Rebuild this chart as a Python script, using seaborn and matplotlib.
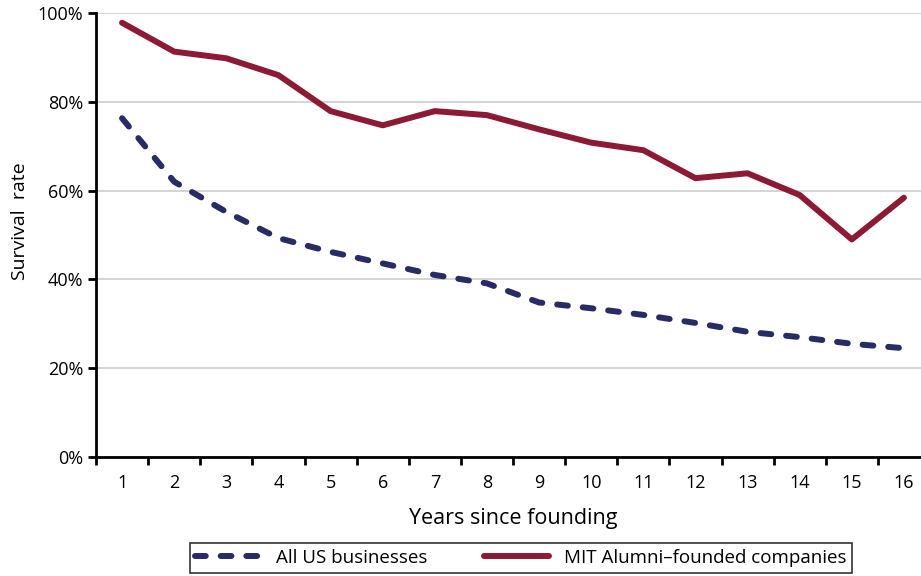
import numpy as np
import pandas as pd
import seaborn as sns
import matplotlib.pyplot as plt
from matplotlib.lines import Line2D

# data
years = list(range(1, 17))
mit_alumni = [97.8, 91.3, 89.8, 86.0, 77.9, 74.7, 77.9, 77.0,
              73.8, 70.8, 69.1, 62.8, 63.9, 59.0, 49.0, 58.4]
all_us = [76.3, 62.0, 55.2, 49.3, 46.2, 43.6, 41.0, 39.1,
          34.8, 33.5, 32.0, 30.2, 28.2, 27.0, 25.5, 24.5]
series_names = ['All US businesses', 'MIT Alumni\u2013founded companies']

red = '#8c1a35'
navy = '#272b66'

sns.set_style('white')
plt.rcParams['font.family'] = ['Open Sans', 'DejaVu Sans']
plt.rcParams['text.color'] = 'black'
plt.rcParams['axes.labelcolor'] = 'black'
plt.rcParams['xtick.color'] = 'black'
plt.rcParams['ytick.color'] = 'black'

df = pd.DataFrame({'year': years * 2,
                   'rate': all_us + mit_alumni,
                   'series': [series_names[0]] * 16 + [series_names[1]] * 16})

fig = plt.figure(figsize=(9.21, 5.76), dpi=100)
ax = fig.add_axes([96 / 921, 119 / 576, 834 / 921, 444 / 576])

sns.lineplot(data=df[df.series == series_names[1]], x='year', y='rate',
             color=red, linewidth=4.3, ax=ax, solid_capstyle='round')
sns.lineplot(data=df[df.series == series_names[0]], x='year', y='rate',
             color=navy, linewidth=4.3, ax=ax, dashes=False)
blue_line = ax.lines[-1]
blue_line.set_dashes((1.8, 2.5))
blue_line.set_dash_capstyle('round')

ax.set_xlim(0.5, 16.5)
ax.set_ylim(0, 100)
ax.set_yticks([0, 20, 40, 60, 80, 100])
ax.set_yticklabels(['0%', '20%', '40%', '60%', '80%', '100%'])
ax.set_xticks(years)
ax.set_xticklabels([str(y) for y in years])
ax.set_xticks(np.arange(0.5, 17, 1), minor=True)
ax.tick_params(axis='x', which='major', length=0, pad=12, labelsize=13)
ax.tick_params(axis='x', which='minor', length=6, width=2, direction='out', bottom=True)
ax.tick_params(axis='y', length=6, width=2, direction='out', left=True, labelsize=13, pad=3)
ax.grid(axis='y', color='#d4d4d4', linewidth=1.4)
ax.set_axisbelow(True)

for s in ['top', 'right']:
    ax.spines[s].set_visible(False)
for s in ['left', 'bottom']:
    ax.spines[s].set_linewidth(2)
    ax.spines[s].set_color('black')

ax.set_xlabel('Years since founding', fontsize=15.5, labelpad=12)
ax.set_ylabel('Survival  rate', fontsize=14)
ax.yaxis.set_label_coords(-0.08, 0.53)

handles = [Line2D([], [], color=navy, linewidth=4.3, dashes=(1.8, 2.5),
                  dash_capstyle='round'),
           Line2D([], [], color=red, linewidth=4.3, solid_capstyle='round')]
leg = fig.legend(handles, series_names, loc='center', ncol=2,
                 bbox_to_anchor=(521 / 921, 1 - 558 / 576), frameon=True,
                 fancybox=False, edgecolor='black', fontsize=13.5,
                 handlelength=3.5, columnspacing=3.0, borderpad=0.3)
leg.get_frame().set_linewidth(1.2)

fig.savefig('out.png', dpi=100)
